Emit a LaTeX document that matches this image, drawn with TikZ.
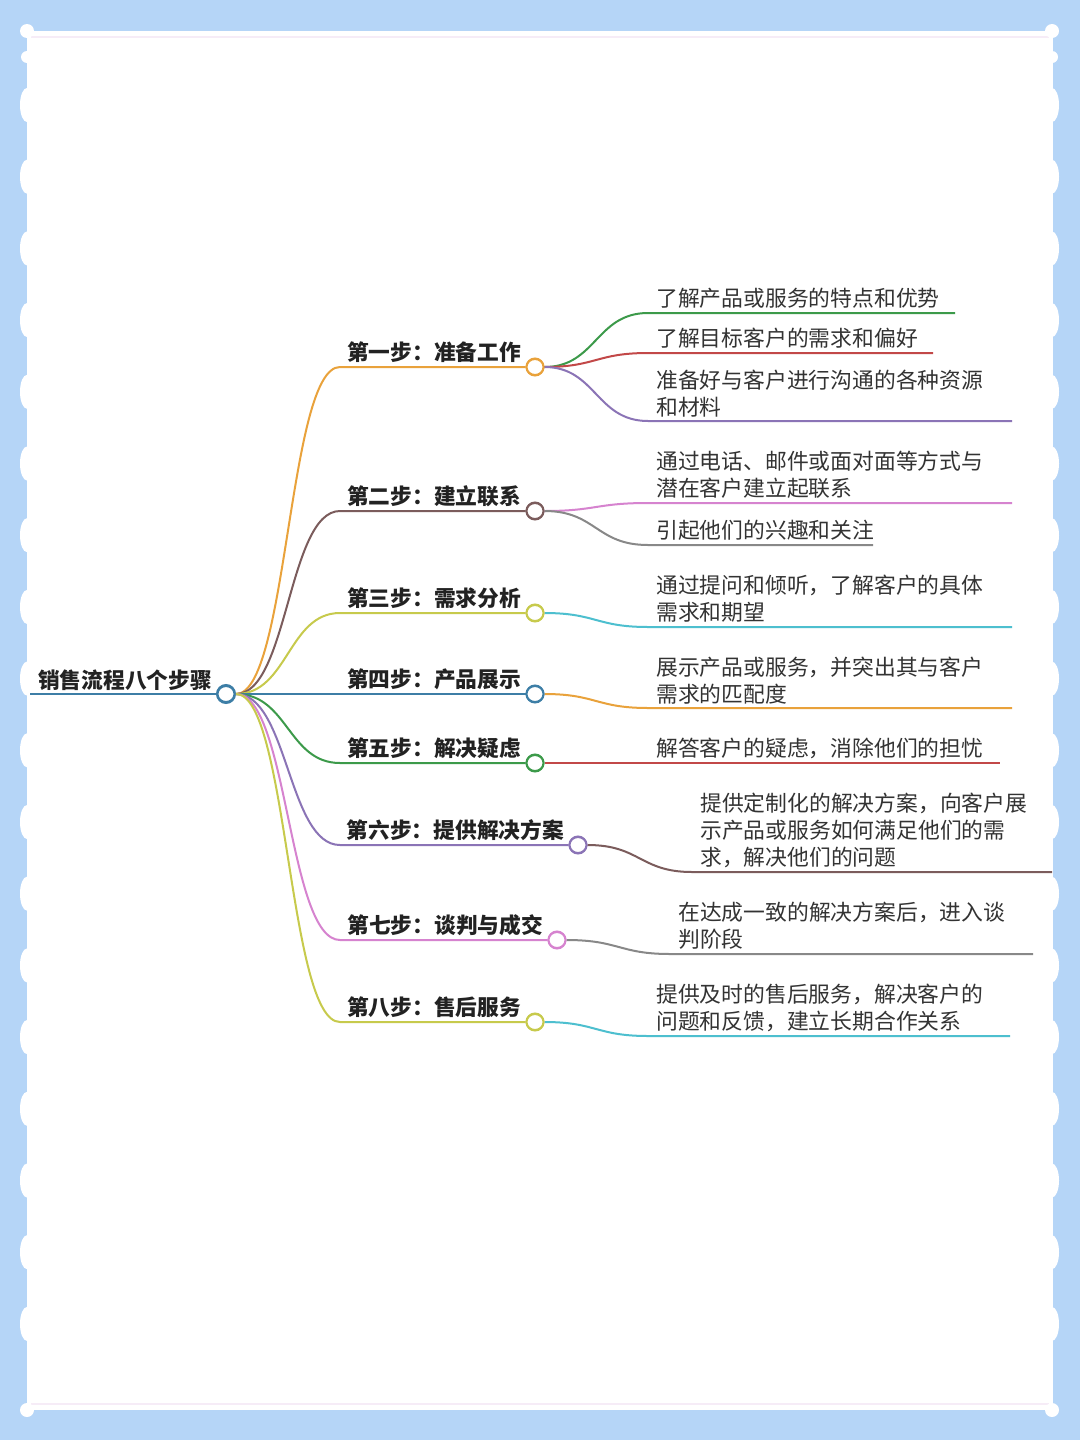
\documentclass[tikz,border=0pt]{standalone}
\usepackage{fontspec}
\newfontfamily\cjk{Noto Sans CJK SC}
\definecolor{bgblue}{HTML}{B5D5F7}
\definecolor{cOrange}{HTML}{E9A23B}
\definecolor{cBrown}{HTML}{7B5C5C}
\definecolor{cYG}{HTML}{C7CA4C}
\definecolor{cBlue}{HTML}{3D7EA6}
\definecolor{cGreen}{HTML}{3C9A4A}
\definecolor{cPurple}{HTML}{8B74B6}
\definecolor{cPink}{HTML}{D683CF}
\definecolor{cRed}{HTML}{C24848}
\definecolor{cGray}{HTML}{888888}
\definecolor{cCyan}{HTML}{4DBFCF}
\definecolor{txt}{HTML}{222222}
\definecolor{leaftxt}{HTML}{333333}
\definecolor{faintpink}{HTML}{F6ECF7}
\tikzset{
  dot/.style={circle,draw,fill=white,line width=2pt,minimum size=17pt,inner sep=0pt},
  link/.style={line width=2pt},
  steplabel/.style={font=\cjk\bfseries\fontsize{21.7}{27}\selectfont,text=txt,inner sep=0pt,anchor=base east},
  leaflabel/.style={font=\cjk\fontsize{21.8}{27}\selectfont,text=leaftxt,inner sep=0pt,anchor=south west,align=left},
}
\begin{document}
\begin{tikzpicture}[x=1pt,y=-1pt]
\useasboundingbox (0,0) rectangle (1080,1440);
% frame
\fill[bgblue] (0,0) rectangle (1080,1440);
\fill[white] (27,31) rectangle (1053,1410);
\draw[faintpink,line width=2pt] (31,37) -- (1049,37);
\draw[faintpink,line width=2pt] (31,1404) -- (1049,1404);
\foreach \xx in {27,1052}{
  \fill[white] (\xx,31) circle (7);
  \fill[white] (\xx,57) circle (6);
  \foreach \k in {0,...,17}{
    \fill[white] (\xx,105+71.7*\k) ellipse (7 and 17);
  }
  \fill[white] (\xx,1410) circle (7);
}

% root
\node[steplabel,anchor=base west] (rootlabel) at (38,688) {销售流程八个步骤};
\node[dot,draw=cBlue,minimum width=18pt,minimum height=16pt] (r) at (226,694) {};
\coordinate (rstart) at (30,694);
\draw[link,cBlue] (rstart) -- (r.west);

% step nodes
\node[dot,draw=cOrange] (s1) at (535,367) {};
\node[dot,draw=cBrown] (s2) at (535,511) {};
\node[dot,draw=cYG] (s3) at (535,613) {};
\node[dot,draw=cBlue] (s4) at (535,694) {};
\node[dot,draw=cGreen] (s5) at (535,763) {};
\node[dot,draw=cPurple] (s6) at (578,845) {};
\node[dot,draw=cPink] (s7) at (557,940) {};
\node[dot,draw=cYG] (s8) at (535,1022) {};

\node[steplabel] (t1) at (521,360) {第一步：准备工作};
\node[steplabel] (t2) at (521,504) {第二步：建立联系};
\node[steplabel] (t3) at (521,606) {第三步：需求分析};
\node[steplabel] (t4) at (521,687) {第四步：产品展示};
\node[steplabel] (t5) at (521,756) {第五步：解决疑虑};
\node[steplabel] (t6) at (564,838) {第六步：提供解决方案};
\node[steplabel] (t7) at (543,933) {第七步：谈判与成交};
\node[steplabel] (t8) at (521,1015) {第八步：售后服务};

% root -> steps
\draw[link,cOrange] (r.east) .. controls (288,694) and (288,367) .. (340,367) -- (s1.west);
\draw[link,cBrown] (r.east) .. controls (288,694) and (288,511) .. (340,511) -- (s2.west);
\draw[link,cYG] (r.east) .. controls (288,694) and (288,613) .. (340,613) -- (s3.west);
\draw[link,cBlue] (r.east) -- (s4.west);
\draw[link,cGreen] (r.east) .. controls (288,694) and (288,763) .. (340,763) -- (s5.west);
\draw[link,cPurple] (r.east) .. controls (288,694) and (288,845) .. (340,845) -- (s6.west);
\draw[link,cPink] (r.east) .. controls (288,694) and (288,940) .. (340,940) -- (s7.west);
\draw[link,cYG] (r.east) .. controls (288,694) and (288,1022) .. (340,1022) -- (s8.west);

% leaves
\node[leaflabel] (l1a) at (656,309) {了解产品或服务的特点和优势};
\node[leaflabel] (l1b) at (656,349) {了解目标客户的需求和偏好};
\node[leaflabel] (l1c) at (656,417) {准备好与客户进行沟通的各种资源\\和材料};
\node[leaflabel] (l2a) at (656,499) {通过电话、邮件或面对面等方式与\\潜在客户建立起联系};
\node[leaflabel] (l2b) at (656,541) {引起他们的兴趣和关注};
\node[leaflabel] (l3) at (656,623) {通过提问和倾听，了解客户的具体\\需求和期望};
\node[leaflabel] (l4) at (656,704) {展示产品或服务，并突出其与客户\\需求的匹配度};
\node[leaflabel] (l5) at (656,759) {解答客户的疑虑，消除他们的担忧};
\node[leaflabel] (l6) at (700,868) {提供定制化的解决方案，向客户展\\示产品或服务如何满足他们的需\\求，解决他们的问题};
\node[leaflabel] (l7) at (678,950) {在达成一致的解决方案后，进入谈\\判阶段};
\node[leaflabel] (l8) at (656,1032) {提供及时的售后服务，解决客户的\\问题和反馈，建立长期合作关系};

\coordinate (e1a) at (955,313);
\coordinate (e1b) at (933,353);
\coordinate (e1c) at (1012,421);
\coordinate (e2a) at (1012,503);
\coordinate (e2b) at (873,545);
\coordinate (e3) at (1012,627);
\coordinate (e4) at (1012,708);
\coordinate (e5) at (1000,763);
\coordinate (e6) at (1052,872);
\coordinate (e7) at (1033,954);
\coordinate (e8) at (1010,1036);

% steps -> leaves
\draw[link,cGreen] (s1.east) .. controls (596,367) and (596,313) .. (648,313) -- (e1a);
\draw[link,cRed] (s1.east) .. controls (596,367) and (596,353) .. (648,353) -- (e1b);
\draw[link,cPurple] (s1.east) .. controls (596,367) and (596,421) .. (648,421) -- (e1c);
\draw[link,cPink] (s2.east) .. controls (596,511) and (596,503) .. (648,503) -- (e2a);
\draw[link,cGray] (s2.east) .. controls (596,511) and (596,545) .. (648,545) -- (e2b);
\draw[link,cCyan] (s3.east) .. controls (596,613) and (596,627) .. (648,627) -- (e3);
\draw[link,cOrange] (s4.east) .. controls (596,694) and (596,708) .. (648,708) -- (e4);
\draw[link,cRed] (s5.east) -- (e5);
\draw[link,cBrown] (s6.east) .. controls (640,845) and (640,872) .. (692,872) -- (e6);
\draw[link,cGray] (s7.east) .. controls (619,940) and (619,954) .. (670,954) -- (e7);
\draw[link,cCyan] (s8.east) .. controls (596,1022) and (596,1036) .. (648,1036) -- (e8);

% redraw dots on top
\foreach \n/\c in {r/cBlue,s1/cOrange,s2/cBrown,s3/cYG,s4/cBlue,s5/cGreen,s6/cPurple,s7/cPink,s8/cYG}{
  \draw[line width=2pt,\c,fill=white] (\n.center) ellipse (8.5 and 8);
}
\end{tikzpicture}
\end{document}
